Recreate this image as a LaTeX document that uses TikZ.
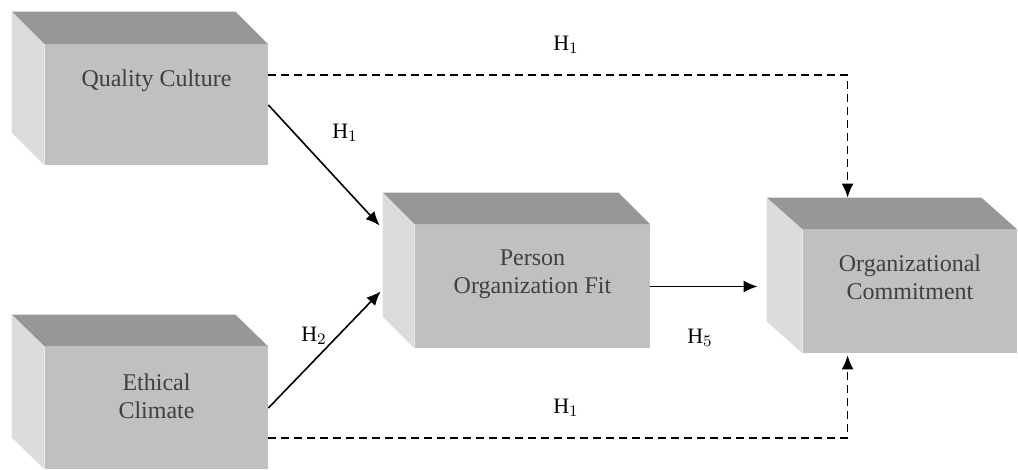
\documentclass[tikz,border=0pt]{standalone}
\usepackage{fontspec}
\setmainfont{Liberation Serif}
\usetikzlibrary{arrows.meta}

\definecolor{frontgray}{HTML}{C0C0C0}
\definecolor{topgray}{HTML}{979797}
\definecolor{sidegray}{HTML}{DCDCDC}

\tikzset{
	frontface/.style={fill=frontgray, inner sep=0pt},
	boxtext/.style={text=black!75, align=center, font=\large, anchor=north},
	link/.style={line width=0.8pt, -{Latex[length=7pt,width=6pt]}},
	dashlink/.style={link, dash pattern=on 4pt off 2.5pt},
	hyp/.style={font=\fontsize{11}{13}\selectfont}
}

\begin{document}
\begin{tikzpicture}[x=0.5pt, y=-0.5pt]
		\useasboundingbox (0, 0) rectangle (1018, 470);

		% front faces
		\node[frontface, minimum width=111.5pt, minimum height=60pt,
			label={[boxtext, yshift=-9pt]north:Quality Culture}] (qc) at (156.5, 105) {};
		\node[frontface, minimum width=111.5pt, minimum height=61pt,
			label={[boxtext, yshift=-10pt]north:Ethical\\Climate}] (ec) at (156.5, 408) {};
		\node[frontface, minimum width=117.5pt, minimum height=61.5pt,
			label={[boxtext, yshift=-9pt]north:Person\\Organization Fit}] (pof) at (532.5, 286.5) {};
		\node[frontface, minimum width=107pt, minimum height=61.5pt,
			label={[boxtext, yshift=-9pt]north:Organizational\\Commitment}] (oc) at (910, 291.5) {};

		% top and side faces
		\fill[topgray] (qc.north west) -- ++(-33, -33) -- ([xshift=-16.5pt, yshift=16.5pt]qc.north east) -- (qc.north east) -- cycle;
		\fill[sidegray] (qc.north west) -- ++(-33, -33) -- ([xshift=-16.5pt, yshift=16.5pt]qc.south west) -- (qc.south west) -- cycle;

		\fill[topgray] (ec.north west) -- ++(-33, -32) -- ([xshift=-16.5pt, yshift=16pt]ec.north east) -- (ec.north east) -- cycle;
		\fill[sidegray] (ec.north west) -- ++(-33, -32) -- ([xshift=-16.5pt, yshift=16pt]ec.south west) -- (ec.south west) -- cycle;

		\fill[topgray] (pof.north west) -- ++(-32, -32) -- ([xshift=-16pt, yshift=16pt]pof.north east) -- (pof.north east) -- cycle;
		\fill[sidegray] (pof.north west) -- ++(-32, -32) -- ([xshift=-16pt, yshift=16pt]pof.south west) -- (pof.south west) -- cycle;

		\fill[topgray] (oc.north west) -- ++(-36, -32) -- ([xshift=-18pt, yshift=16pt]oc.north east) -- (oc.north east) -- cycle;
		\fill[sidegray] (oc.north west) -- ++(-36, -32) -- ([xshift=-18pt, yshift=16pt]oc.south west) -- (oc.south west) -- cycle;

		% connector ends
		\coordinate (octop) at ([xshift=22.5pt, yshift=16pt]oc.north west);
		\coordinate (ocbottom) at ([xshift=22.5pt, yshift=-1pt]oc.south west);
		\coordinate (ocin) at ([xshift=-22.5pt]oc.west);
		\coordinate (pofup) at ([xshift=-17.5pt, yshift=30.5pt]pof.west);
		\coordinate (pofdown) at ([xshift=-17pt, yshift=-2.5pt]pof.west);

		\draw[dashlink] ([yshift=15pt]qc.east) -| (octop);
		\draw[dashlink] ([yshift=-15pt]ec.east) -| (ocbottom);
		\draw[link] (qc.east) -- (pofup);
		\draw[link] (ec.east) -- (pofdown);
		\draw[link] (pof.east) -- (pof.east -| ocin);

		% hypotheses
		\node[hyp] (htop) at (566, 45) {H$_1$};
		\node[hyp] (hqc) at (345, 133) {H$_1$};
		\node[hyp] (hec) at (314, 336) {H$_2$};
		\node[hyp] (hpof) at (700, 338) {H$_5$};
		\node[hyp] (hbottom) at (566, 408) {H$_1$};
	\end{tikzpicture}
\end{document}
